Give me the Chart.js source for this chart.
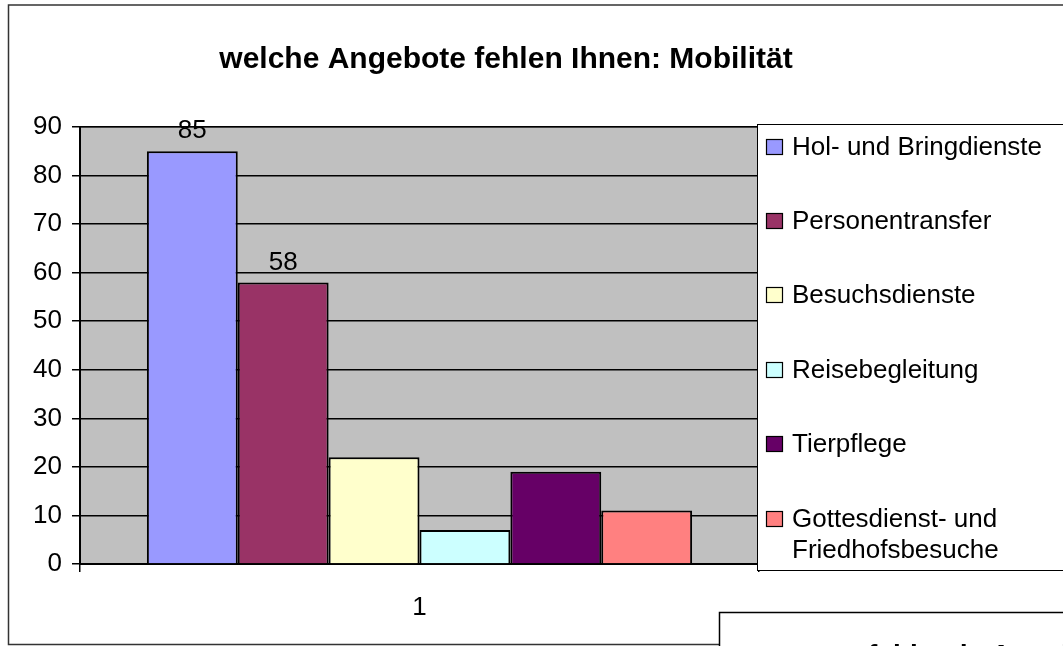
<!DOCTYPE html>
<html>
<head>
<meta charset="utf-8">
<script src="https://cdn.jsdelivr.net/npm/chart.js@4"></script>
<style>
  html, body { margin: 0; padding: 0; background: #fff; }
  #wrap { width: 1063px; height: 646px; position: relative; }
</style>
</head>
<body>
<div id="wrap"><canvas id="mobChart" width="1063" height="646"></canvas></div>
<script>
const chartTitle = 'welche Angebote fehlen Ihnen: Mobilität';
const categories = ['1'];
const seriesNames = [
    'Hol- und Bringdienste', 'Personentransfer', 'Besuchsdienste',
    'Reisebegleitung', 'Tierpflege', 'Gottesdienst- und Friedhofsbesuche'
];
const seriesValues = [85, 58, 22, 7, 19, 11];
const seriesColors = ['#9999FF', '#993366', '#FFFFCC', '#CCFFFF', '#660066', '#FF8080'];
const showValue = [true, true, false, false, false, false];
const legendLines = [
    ['Hol- und Bringdienste'], ['Personentransfer'], ['Besuchsdienste'],
    ['Reisebegleitung'], ['Tierpflege'], ['Gottesdienst- und', 'Friedhofsbesuche']
];
const yTicks = [0, 10, 20, 30, 40, 50, 60, 70, 80, 90];
const nextChartTitle = 'fehlende Angebote';

const FONT = '"Liberation Sans", Arial, sans-serif';
Chart.defaults.font.family = FONT;

// grey plot area
const plotBg = {
    id: 'plotBg',
    beforeDraw(chart) {
        const { ctx, chartArea: a } = chart;
        ctx.save();
        ctx.fillStyle = '#C0C0C0';
        ctx.fillRect(a.left, a.top, a.right - a.left, a.bottom - a.top);
        ctx.strokeStyle = '#808080';
        ctx.lineWidth = 2;
        ctx.beginPath();
        ctx.moveTo(a.left, a.top);
        ctx.lineTo(a.right, a.top);
        ctx.stroke();
        ctx.restore();
    }
};

// frame, title, value labels, legend, overlapping next chart
const extras = {
    id: 'extras',
    afterDraw(chart) {
        const { ctx } = chart;
        ctx.save();

        // outer frame of the chart object
        ctx.strokeStyle = '#333';
        ctx.lineWidth = 1.5;
        ctx.beginPath();
        ctx.moveTo(1063, 5);
        ctx.lineTo(8.5, 5);
        ctx.lineTo(8.5, 644.5);
        ctx.lineTo(719, 644.5);
        ctx.stroke();

        // title
        ctx.fillStyle = '#000';
        ctx.font = 'bold 30px ' + FONT;
        ctx.textAlign = 'center';
        ctx.textBaseline = 'middle';
        ctx.fillText(chartTitle, 506, 60);

        // value labels
        ctx.font = '26px ' + FONT;
        ctx.textBaseline = 'middle';
        chart.data.datasets.forEach((ds, i) => {
            if (!showValue[i]) return;
            const el = chart.getDatasetMeta(i).data[0];
            ctx.fillText(String(ds.data[0]), el.x, el.y - 20);
        });

        // legend box
        const lx = 757, ly = 124;
        ctx.fillStyle = '#fff';
        ctx.fillRect(lx, ly, 320, 446);
        ctx.strokeStyle = '#000';
        ctx.lineWidth = 1;
        ctx.strokeRect(lx + 0.5, ly + 0.5, 320, 446);
        ctx.font = '26px ' + FONT;
        ctx.textAlign = 'left';
        ctx.textBaseline = 'middle';
        const rowY = [147, 221, 295, 370, 444, 519];
        legendLines.forEach((lines, i) => {
            const y = rowY[i];
            ctx.fillStyle = seriesColors[i];
            ctx.fillRect(766.5, y - 7.5, 16, 15);
            ctx.strokeStyle = '#000';
            ctx.lineWidth = 1.2;
            ctx.strokeRect(766.5, y - 7.5, 16, 15);
            ctx.fillStyle = '#000';
            lines.forEach((t, k) => ctx.fillText(t, 792, y + 1 + k * 31));
        });

        // next chart object overlapping at the bottom right
        ctx.fillStyle = '#fff';
        ctx.fillRect(719, 612, 400, 40);
        ctx.strokeStyle = '#000';
        ctx.lineWidth = 1.5;
        ctx.beginPath();
        ctx.moveTo(719.5, 646);
        ctx.lineTo(719.5, 612.5);
        ctx.lineTo(1063, 612.5);
        ctx.stroke();
        ctx.fillStyle = '#000';
        ctx.font = 'bold 28px ' + FONT;
        ctx.textAlign = 'left';
        ctx.textBaseline = 'middle';
        ctx.fillText(nextChartTitle, 868, 656);

        ctx.restore();
    }
};

const datasets = seriesNames.map((name, i) => ({
    label: name,
    data: [seriesValues[i]],
    backgroundColor: seriesColors[i],
    borderColor: '#000',
    borderWidth: 2,
    categoryPercentage: 0.803,
    barPercentage: 1.0
}));

new Chart(document.getElementById('mobChart').getContext('2d'), {
    type: 'bar',
    data: { labels: categories, datasets: datasets },
    options: {
        responsive: false,
        animation: false,
        layout: { padding: { left: 0, right: 304, top: 127, bottom: 0 } },
        plugins: {
            legend: { display: false },
            title: { display: false },
            tooltip: { enabled: false }
        },
        scales: {
            x: {
                offset: true,
                grid: {
                    offset: true,
                    drawOnChartArea: false,
                    drawTicks: true,
                    tickLength: 8,
                    color: '#000',
                    lineWidth: 1.5
                },
                border: { display: true, color: '#000', width: 2 },
                ticks: { color: '#000', font: { size: 26 }, padding: 20 },
                afterFit(s) { s.height = 82; }
            },
            y: {
                min: 0,
                max: 90,
                afterBuildTicks(s) { s.ticks = yTicks.map(v => ({ value: v })); },
                grid: {
                    color: '#000',
                    lineWidth: 1.5,
                    tickLength: 8
                },
                border: { display: true, color: '#000', width: 2 },
                ticks: { color: '#000', font: { size: 26 }, padding: 10 },
                afterFit(s) { s.width = 80; }
            }
        }
    },
    plugins: [plotBg, extras]
});
</script>
</body>
</html>
